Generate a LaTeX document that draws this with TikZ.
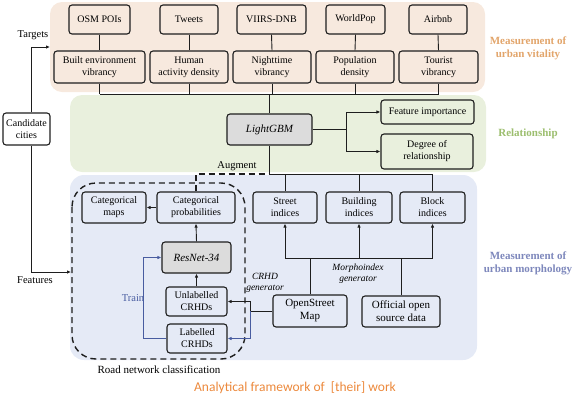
\documentclass[tikz,border=0pt]{standalone}
\usepackage{fontspec}
\setmainfont{Liberation Serif}
\newfontfamily\titlefont{Carlito}
\usetikzlibrary{arrows.meta,positioning,calc}
\definecolor{panelO}{RGB}{247,233,222}
\definecolor{panelG}{RGB}{233,240,221}
\definecolor{panelB}{RGB}{229,234,246}
\definecolor{labO}{RGB}{226,165,107}
\definecolor{labG}{RGB}{156,190,110}
\definecolor{labB}{RGB}{126,136,188}
\definecolor{trainB}{RGB}{72,92,160}
\definecolor{titleO}{RGB}{236,137,60}
\definecolor{grayfill}{RGB}{220,220,220}
\definecolor{ink}{RGB}{30,30,30}
\tikzset{
  box/.style={draw=ink, rounded corners=3pt, line width=1.1pt, align=center,
    font=\fontsize{10}{12}\selectfont, inner sep=0pt},
  gbox/.style={box, fill=grayfill, font=\fontsize{11}{13}\selectfont\itshape},
  conn/.style={draw=ink, line width=0.9pt},
  arr/.style={conn, -{Latex[length=4pt,width=3.5pt]}},
  barr/.style={draw=trainB, line width=0.9pt, -{Latex[length=4pt,width=3.5pt]}},
  lbl/.style={font=\fontsize{10.5}{12}\selectfont, inner sep=0pt},
  side/.style={font=\fontsize{11}{13}\selectfont\bfseries, align=center, inner sep=0pt},
}
\begin{document}
\begin{tikzpicture}[x=1pt,y=-1pt]
\useasboundingbox (0,0) rectangle (575,400);
% panels
\fill[panelO, rounded corners=12pt] (50,2) rectangle (485,92);
\fill[panelG, rounded corners=12pt] (70,95) rectangle (486,172);
\fill[panelB, rounded corners=14pt] (70,175) rectangle (477,360);
% dashed region
\draw[ink, line width=1.4pt, dash pattern=on 6pt off 4pt, rounded corners=24pt] (72,183) rectangle (245,359);
% top row
\node[box, minimum width=61pt, minimum height=29pt] (osm) at (99.5,19.5) {OSM POIs};
\node[box, minimum width=58pt, minimum height=29pt] (tweets) at (189,19.5) {Tweets};
\node[box, minimum width=69pt, minimum height=29pt] (viirs) at (271.5,19.5) {VIIRS-DNB};
\node[box, minimum width=59pt, minimum height=29pt] (worldpop) at (355.5,19.5) {WorldPop};
\node[box, minimum width=58pt, minimum height=29pt] (airbnb) at (438,19.5) {Airbnb};
% second row
\node[box, minimum width=91pt, minimum height=32pt] (bev) at (99.5,67) {Built environment\\vibrancy};
\node[box, minimum width=78pt, minimum height=32pt] (had) at (189,67) {Human\\activity density};
\node[box, minimum width=78pt, minimum height=32pt] (nv) at (272,67) {Nighttime\\vibrancy};
\node[box, minimum width=78pt, minimum height=32pt] (pd) at (355,67) {Population\\density};
\node[box, minimum width=79pt, minimum height=32pt] (tv) at (438.5,67) {Tourist\\vibrancy};
% relationship
\node[gbox, minimum width=85pt, minimum height=31pt] (lgbm) at (269.5,129.5) {LightGBM};
\node[box, minimum width=93pt, minimum height=24pt] (fi) at (427.5,112) {Feature importance};
\node[box, minimum width=92pt, minimum height=35pt] (dr) at (427,151.5) {Degree of\\relationship};
\node[box, minimum width=47pt, minimum height=32pt] (cand) at (26.5,129) {Candidate\\cities};
% morphology
\node[box, minimum width=64pt, minimum height=31pt] (cmaps) at (114,207.5) {Categorical\\maps};
\node[box, minimum width=78pt, minimum height=31pt] (cprob) at (196,207.5) {Categorical\\probabilities};
\node[gbox, minimum width=69pt, minimum height=31pt] (resnet) at (196.5,257.5) {ResNet-34};
\node[box, minimum width=61pt, minimum height=29pt] (unl) at (196.5,301.5) {Unlabelled\\CRHDs};
\node[box, minimum width=60pt, minimum height=29pt] (lab) at (197,338.5) {Labelled\\CRHDs};
\node[box, minimum width=64pt, minimum height=31pt] (street) at (285,207.5) {Street\\indices};
\node[box, minimum width=66pt, minimum height=31pt] (building) at (359,207.5) {Building\\indices};
\node[box, minimum width=65pt, minimum height=31pt] (block) at (432.5,207.5) {Block\\indices};
\node[box, minimum width=74pt, minimum height=32pt, font=\fontsize{11}{13}\selectfont] (osmap) at (310,311) {OpenStreet\\Map};
\node[box, minimum width=78pt, minimum height=31pt, font=\fontsize{11}{13}\selectfont] (official) at (401,311.5) {Official open\\source data};
% bus coordinates
\coordinate (busT) at (0,94);
\coordinate (busM) at (0,174);
\coordinate (busB) at (0,258);
\coordinate (crhd) at (250,0);
\coordinate (tgt) at (50,47);
\coordinate (feat) at (71,272);
% top connectors
\foreach \a/\b in {osm/bev,tweets/had,viirs/nv,worldpop/pd,airbnb/tv}
  \draw[conn] (\a.south) -- (\b.north);
\foreach \b in {bev,had,nv,pd,tv}
  \draw[conn] (\b.south) -- (\b.south |- busT);
\draw[conn] (bev.south |- busT) -- (tv.south |- busT);
\draw[conn] (lgbm.north |- busT) -- (lgbm.north);
% relationship arrows
\draw[arr] (lgbm.east) -- ++(34,0) |- (fi.west);
\draw[arr] (lgbm.east) -- ++(34,0) |- (dr.west);
% lightgbm to indices
\draw[conn] (lgbm.south) -- (lgbm.south |- busM) -- (block.north |- busM);
\foreach \b in {street,building,block}
  \draw[conn] (\b.north |- busM) -- (\b.north);
\draw[ink, line width=1.3pt, dash pattern=on 6pt off 4pt] (cprob.north) -- (cprob.north |- busM) -- (lgbm.south |- busM);
% morphoindex generator
\draw[conn] (osmap.north) -- (osmap.north |- busB);
\draw[conn] (official.north) -- (official.north |- busB);
\draw[conn] (street.south |- busB) -- (block.south |- busB);
\foreach \b in {street,building,block}
  \draw[arr] (\b.south |- busB) -- (\b.south);
% CRHD generator
\draw[conn] (osmap.west) -- (osmap.west -| crhd);
\draw[arr] (osmap.west -| crhd) |- (unl.east);
\draw[barr] (osmap.west -| crhd) |- (lab.east);
% train
\draw[barr] (lab.west) -- ++(-23,0) |- (resnet.west);
% internal arrows
\draw[arr] (unl.north) -- (resnet.south);
\draw[arr] (resnet.north) -- (cprob.south);
\draw[arr] (cprob.west) -- (cmaps.east);
% candidate cities
\draw[arr] ([xshift=4.5pt]cand.north) |- (tgt);
\draw[arr] ([xshift=4.5pt]cand.south) |- (feat);
% labels
\node[lbl] (ltargets) at (33,35) {Targets};
\node[lbl] (lfeatures) at (35,280) {Features};
\node[lbl] (laugment) at (237,166) {Augment};
\node[font=\fontsize{9.5}{10.5}\selectfont\itshape, align=center, inner sep=0pt] (lcrhd) at (265,283) {CRHD\\generator};
\node[font=\fontsize{9.5}{11}\selectfont\itshape, align=center, inner sep=0pt] (lmorph) at (358,273.5) {Morphoindex\\generator};
\node[lbl, text=trainB] (ltrain) at (133,298) {Train};
\node[font=\fontsize{11}{13}\selectfont, inner sep=0pt] (lroad) at (159,370) {Road network classification};
\node[side, text=labO] (sv) at (528,48.5) {Measurement of\\urban vitality};
\node[side, text=labG] (sr) at (528,134) {Relationship};
\node[side, text=labB] (sm) at (528,263.5) {Measurement of\\urban morphology};
\node[font=\fontsize{13.5}{15}\selectfont\titlefont, text=titleO, inner sep=0pt] (title) at (295,388) {Analytical framework of\ \ [their] work};
\end{tikzpicture}
\end{document}
